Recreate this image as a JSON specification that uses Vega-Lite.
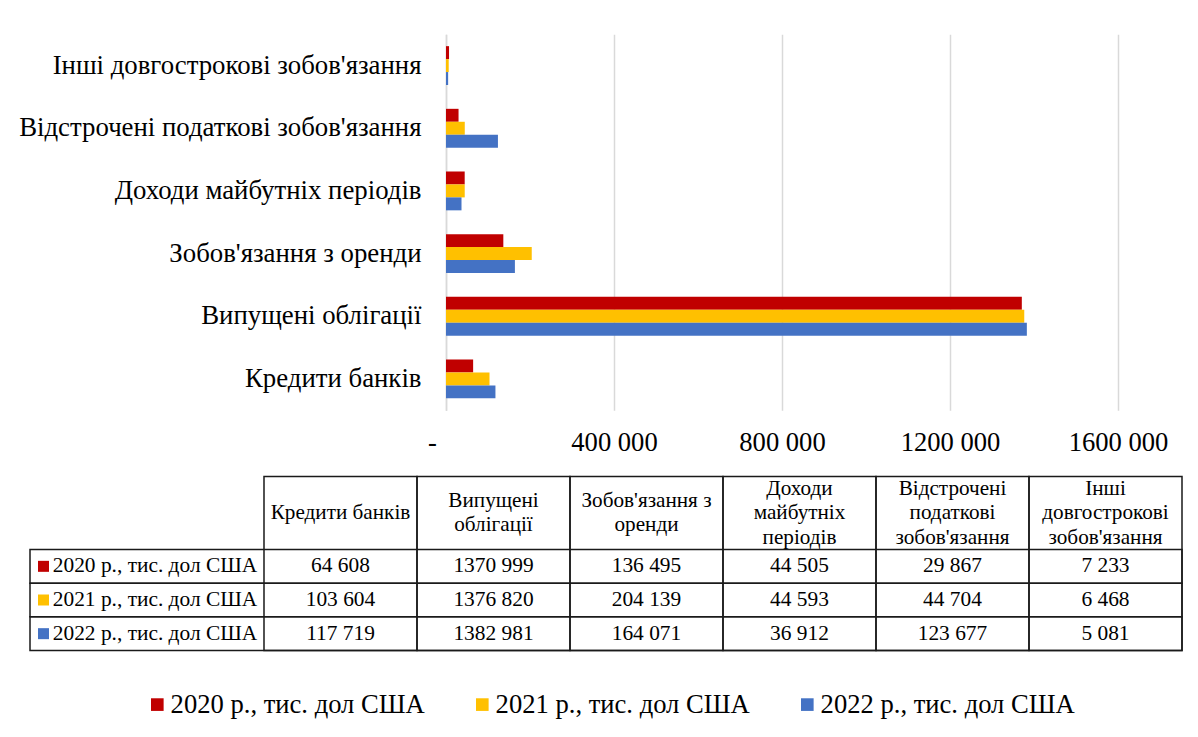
{
  "$schema": "https://vega.github.io/schema/vega-lite/v6.json",
  "background": "white",
  "padding": {"left": 10, "top": 34.25, "right": 5, "bottom": 5},
  "spacing": 5.25,
  "datasets": {
    "vals": [
      {"cat": "Кредити банків", "series": "2020 р., тис. дол США", "value": 64608},
      {"cat": "Кредити банків", "series": "2021 р., тис. дол США", "value": 103604},
      {"cat": "Кредити банків", "series": "2022 р., тис. дол США", "value": 117719},
      {"cat": "Випущені облігації", "series": "2020 р., тис. дол США", "value": 1370999},
      {"cat": "Випущені облігації", "series": "2021 р., тис. дол США", "value": 1376820},
      {"cat": "Випущені облігації", "series": "2022 р., тис. дол США", "value": 1382981},
      {"cat": "Зобов'язання з оренди", "series": "2020 р., тис. дол США", "value": 136495},
      {"cat": "Зобов'язання з оренди", "series": "2021 р., тис. дол США", "value": 204139},
      {"cat": "Зобов'язання з оренди", "series": "2022 р., тис. дол США", "value": 164071},
      {"cat": "Доходи майбутніх періодів", "series": "2020 р., тис. дол США", "value": 44505},
      {"cat": "Доходи майбутніх періодів", "series": "2021 р., тис. дол США", "value": 44593},
      {"cat": "Доходи майбутніх періодів", "series": "2022 р., тис. дол США", "value": 36912},
      {"cat": "Відстрочені податкові зобов'язання", "series": "2020 р., тис. дол США", "value": 29867},
      {"cat": "Відстрочені податкові зобов'язання", "series": "2021 р., тис. дол США", "value": 44704},
      {"cat": "Відстрочені податкові зобов'язання", "series": "2022 р., тис. дол США", "value": 123677},
      {"cat": "Інші довгострокові зобов'язання", "series": "2020 р., тис. дол США", "value": 7233},
      {"cat": "Інші довгострокові зобов'язання", "series": "2021 р., тис. дол США", "value": 6468},
      {"cat": "Інші довгострокові зобов'язання", "series": "2022 р., тис. дол США", "value": 5081}
    ],
    "hdr": [
      {"cat": "Кредити банків", "label": ["Кредити банків"]},
      {"cat": "Випущені облігації", "label": ["Випущені", "облігації"]},
      {"cat": "Зобов'язання з оренди", "label": ["Зобов'язання з", "оренди"]},
      {"cat": "Доходи майбутніх періодів", "label": ["Доходи", "майбутніх", "періодів"]},
      {"cat": "Відстрочені податкові зобов'язання", "label": ["Відстрочені", "податкові", "зобов'язання"]},
      {"cat": "Інші довгострокові зобов'язання", "label": ["Інші", "довгострокові", "зобов'язання"]}
    ],
    "ser": [
      {"series": "2020 р., тис. дол США"},
      {"series": "2021 р., тис. дол США"},
      {"series": "2022 р., тис. дол США"}
    ]
  },
  "vconcat": [
    {
      "hconcat": [
        {
          "width": 416,
          "height": 376,
          "data": {"name": "ser"},
          "mark": {"type": "rect", "opacity": 0},
          "encoding": {}
        },
        {
          "width": 672,
          "height": 376,
          "data": {"name": "vals"},
          "mark": {"type": "bar"},
          "encoding": {
            "y": {
              "field": "cat",
              "type": "nominal",
              "sort": ["Інші довгострокові зобов'язання", "Відстрочені податкові зобов'язання", "Доходи майбутніх періодів", "Зобов'язання з оренди", "Випущені облігації", "Кредити банків"],
              "scale": {"paddingInner": 0.38, "paddingOuter": 0.19},
              "axis": {
                "title": null,
                "domain": true,
                "domainColor": "#d9d9d9",
                "domainWidth": 1.5,
                "ticks": false,
                "grid": false,
                "labelFont": "Liberation Serif",
                "labelFontSize": 26.8,
                "labelColor": "#000000",
                "labelPadding": 25,
                "labelLimit": 700,
                "minExtent": 436,
                "maxExtent": 436
              }
            },
            "yOffset": {"field": "series", "type": "nominal", "sort": ["2020 р., тис. дол США", "2021 р., тис. дол США", "2022 р., тис. дол США"]},
            "x": {
              "field": "value",
              "type": "quantitative",
              "scale": {"domain": [0, 1600000], "nice": false, "zero": true},
              "axis": {
                "title": null,
                "values": [0, 400000, 800000, 1200000, 1600000],
                "grid": true,
                "gridColor": "#d9d9d9",
                "gridWidth": 1.5,
                "domain": false,
                "ticks": false,
                "labelFlush": false,
                "labelFont": "Liberation Serif",
                "labelFontSize": 26.6,
                "labelColor": "#000000",
                "labelPadding": 19,
                "labelOffset": {"condition": {"test": "datum.value == 0", "value": -14}, "value": 0},
                "labelExpr": "datum.value == 0 ? '-' : (datum.value / 1000) + ' 000'",
                "minExtent": 60,
                "maxExtent": 60
              }
            },
            "color": {
              "field": "series",
              "type": "nominal",
              "scale": {
                "domain": ["2020 р., тис. дол США", "2021 р., тис. дол США", "2022 р., тис. дол США"],
                "range": ["#C00000", "#FFC000", "#4472C4"]
              },
              "legend": {
                "orient": "none",
                "legendX": 114,
                "legendY": 657,
                "direction": "horizontal",
                "title": null,
                "symbolType": "square",
                "symbolSize": 160,
                "symbolStrokeWidth": 0,
                "symbolOpacity": 1,
                "labelFont": "Liberation Serif",
                "labelFontSize": 26.6,
                "labelColor": "#000000",
                "labelLimit": 500,
                "labelOffset": 0,
                "columnPadding": 44
              }
            }
          }
        }
      ],
      "spacing": 0,
      "bounds": "flush"
    },
    {
      "width": 1152,
      "height": 174,
      "layer": [
        {
          "data": {"name": "hdr"},
          "mark": {"type": "rect", "fill": "transparent", "stroke": "#1a1a1a", "strokeWidth": 1.5},
          "encoding": {
            "x": {
              "field": "cat",
              "type": "nominal",
              "scale": {
                "domain": ["Кредити банків", "Випущені облігації", "Зобов'язання з оренди", "Доходи майбутніх періодів", "Відстрочені податкові зобов'язання", "Інші довгострокові зобов'язання"],
                "paddingInner": 0,
                "paddingOuter": 0.7647,
                "align": 1
              },
              "axis": null
            }
          }
        },
        {
          "data": {"name": "ser"},
          "mark": {"type": "rect", "fill": "transparent", "stroke": "#1a1a1a", "strokeWidth": 1.5},
          "encoding": {
            "y": {
              "field": "series",
              "type": "nominal",
              "scale": {
                "domain": ["header", "2020 р., тис. дол США", "2021 р., тис. дол США", "2022 р., тис. дол США"],
                "paddingInner": 0,
                "paddingOuter": 0.5842,
                "align": 1
              },
              "axis": {"title": null, "labels": false, "ticks": false, "domain": false, "grid": false, "minExtent": 20, "maxExtent": 20}
            }
          }
        },
        {
          "data": {"name": "hdr"},
          "transform": [{"filter": "length(datum.label) == 1"}],
          "mark": {"type": "text", "font": "Liberation Serif", "fontSize": 21.2, "color": "#000000", "baseline": "middle", "align": "center", "lineHeight": 24.5, "dy": -36.5},
          "encoding": {
            "x": {"field": "cat", "type": "nominal"},
            "y": {"datum": "2020 р., тис. дол США", "type": "nominal", "bandPosition": 0},
            "text": {"field": "label"}
          }
        },
        {
          "data": {"name": "hdr"},
          "transform": [{"filter": "length(datum.label) == 2"}],
          "mark": {"type": "text", "font": "Liberation Serif", "fontSize": 21.2, "color": "#000000", "baseline": "middle", "align": "center", "lineHeight": 24.5, "dy": -48.75},
          "encoding": {
            "x": {"field": "cat", "type": "nominal"},
            "y": {"datum": "2020 р., тис. дол США", "type": "nominal", "bandPosition": 0},
            "text": {"field": "label"}
          }
        },
        {
          "data": {"name": "hdr"},
          "transform": [{"filter": "length(datum.label) == 3"}],
          "mark": {"type": "text", "font": "Liberation Serif", "fontSize": 21.2, "color": "#000000", "baseline": "middle", "align": "center", "lineHeight": 24.5, "dy": -61},
          "encoding": {
            "x": {"field": "cat", "type": "nominal"},
            "y": {"datum": "2020 р., тис. дол США", "type": "nominal", "bandPosition": 0},
            "text": {"field": "label"}
          }
        },
        {
          "data": {"name": "vals"},
          "mark": {"type": "text", "font": "Liberation Serif", "fontSize": 21.4, "color": "#000000", "baseline": "middle", "align": "center"},
          "encoding": {
            "x": {"field": "cat", "type": "nominal"},
            "y": {"field": "series", "type": "nominal"},
            "text": {"field": "value", "type": "quantitative", "format": ",d"}
          }
        },
        {
          "data": {"name": "ser"},
          "mark": {"type": "square", "size": 121, "opacity": 1, "xOffset": -220.5},
          "encoding": {
            "x": {"datum": "Кредити банків", "type": "nominal", "bandPosition": 0},
            "y": {"field": "series", "type": "nominal"},
            "color": {"field": "series", "type": "nominal"}
          }
        },
        {
          "data": {"name": "ser"},
          "mark": {"type": "text", "font": "Liberation Serif", "fontSize": 21.4, "color": "#000000", "baseline": "middle", "align": "center", "dx": -109},
          "encoding": {
            "x": {"datum": "Кредити банків", "type": "nominal", "bandPosition": 0},
            "y": {"field": "series", "type": "nominal"},
            "text": {"field": "series"}
          }
        }
      ]
    }
  ],
  "config": {
    "view": {"stroke": null},
    "font": "Liberation Serif",
    "locale": {"number": {"decimal": ",", "thousands": " ", "grouping": [3, 4], "currency": ["", ""]}}
  }
}
